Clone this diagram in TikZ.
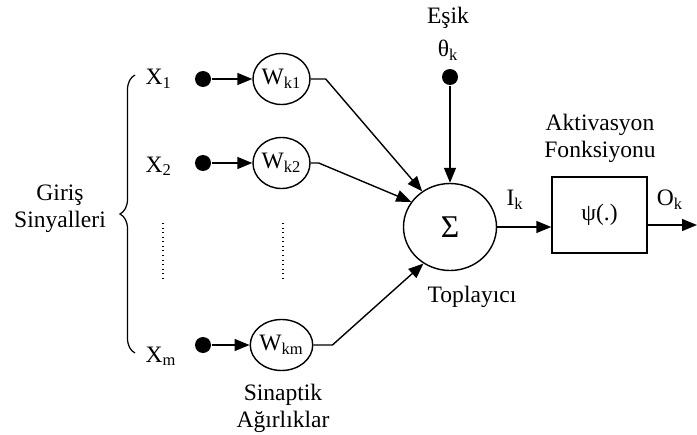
\documentclass[tikz,border=0pt]{standalone}
\usepackage{fontspec}
\setmainfont{Liberation Serif}
\usetikzlibrary{arrows.meta,decorations.pathreplacing,shapes.geometric}

\begin{document}
\begin{tikzpicture}[
    font=\fontsize{13.4}{15.4}\selectfont,
    line width=0.8pt,
    >={Triangle[length=0.3cm,width=0.24cm]},
    dot/.style={circle,fill=black,inner sep=0pt,minimum size=0.32cm},
    xlabel/.style={anchor=base west,inner sep=0pt},
    weight/.style={ellipse,draw,inner sep=0pt,minimum width=1.14cm,minimum height=1.02cm},
    adder/.style={ellipse,draw,inner sep=0pt,minimum width=1.86cm,minimum height=1.74cm}]
    \useasboundingbox (0,0) rectangle (13.94,8.68);

    % inputs and weights
    \node[dot] (x1) at (4.06,7.10) {};
    \node[dot] (x2) at (4.06,5.42) {};
    \node[dot] (xm) at (4.06,1.78) {};
    \node[xlabel] (lx1) at (2.9,6.98) {X\textsubscript{1}};
    \node[xlabel] (lx2) at (2.9,5.24) {X\textsubscript{2}};
    \node[xlabel] (lxm) at (2.9,1.44) {X\textsubscript{m}};
    \node[weight] (w1) at (5.63,7.10) {W\textsubscript{k1}};
    \node[weight] (w2) at (5.63,5.42) {W\textsubscript{k2}};
    \node[weight] (wm) at (5.63,1.78) {W\textsubscript{km}};
    \draw[->] (x1) -- (w1);
    \draw[->] (x2) -- (w2);
    \draw[->] (xm) -- (wm);
    \draw[line width=0.6pt,dotted] (3.26,4.22) -- (3.26,3.12);
    \draw[line width=0.6pt,dotted] (5.66,4.22) -- (5.66,3.12);
    \draw[line width=0.7pt,decorate,decoration={brace,amplitude=0.3cm}] (2.7,1.62) -- (2.7,7.18);
    \node[align=center] (giris) at (1.2,4.5) {Giriş\\Sinyalleri};
    \node[align=center] (sinaptik) at (5.66,0.52) {Sinaptik\\Ağırlıklar};

    % summing junction
    \node[adder] (sum) at (9.0,4.14) {\fontsize{18}{18}\selectfont Σ};
    \node (topl) at (9.44,2.74) {Toplayıcı};
    \draw[->] (w1.east) -- ++(0.3,0) -- (sum.128);
    \draw[->] (w2.east) -- ++(0.16,0) -- (sum.147);
    \draw[->] (wm.east) -- ++(0.38,0) -- (sum.234);
    \node[dot] (t) at (9.0,7.14) {};
    \node (esik) at (8.96,8.33) {Eşik};
    \node (theta) at (8.96,7.68) {θ\textsubscript{k}};
    \draw[->] (t) -- (sum);

    % activation
    \node[draw,minimum width=1.9cm,minimum height=1.52cm] (act) at (11.99,4.38) {ψ(.)};
    \node[align=center] (aktiv) at (12.0,5.91) {Aktivasyon\\Fonksiyonu};
    \coordinate (out) at (13.94,4.18);
    \draw[->] (sum.east) -- (sum.east -| act.west);
    \draw[->] (out -| act.east) -- (out);
    \node (ik) at (10.3,4.68) {I\textsubscript{k}};
    \node (ok) at (13.4,4.68) {O\textsubscript{k}};
\end{tikzpicture}
\end{document}
